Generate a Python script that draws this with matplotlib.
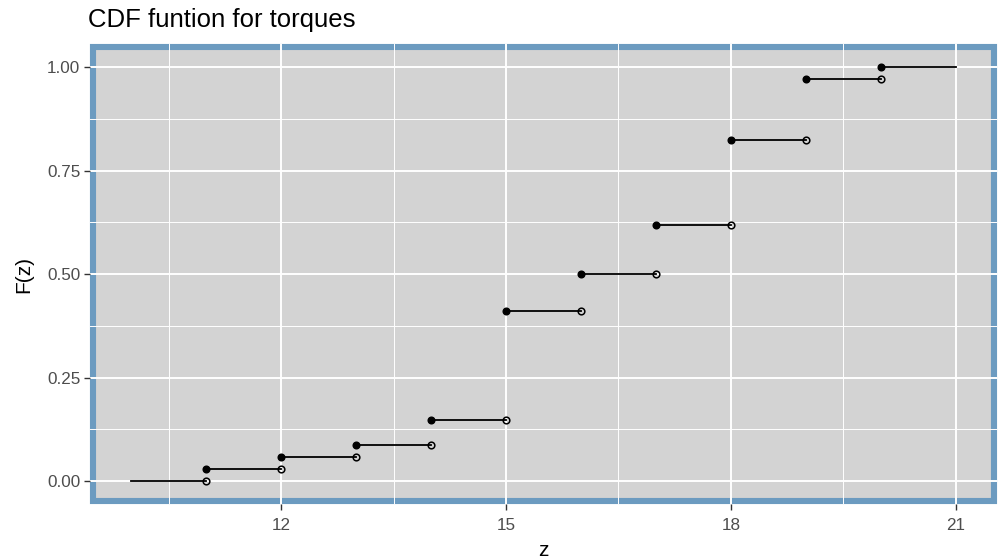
import numpy as np
import matplotlib.pyplot as plt
from matplotlib.patches import Rectangle
from matplotlib.ticker import MultipleLocator

plt.rcParams['font.family'] = ['Liberation Sans', 'DejaVu Sans']

# step values of the empirical cdf
z_left = [10, 11, 12, 13, 14, 15, 16, 17, 18, 19, 20]
z_right = [11, 12, 13, 14, 15, 16, 17, 18, 19, 20, 21]
F = [0.0, 0.029, 0.059, 0.088, 0.147, 0.412, 0.5, 0.618, 0.824, 0.971, 1.0]

x_ticks = [12, 15, 18, 21]
y_ticks = [0.0, 0.25, 0.5, 0.75, 1.0]
y_labels = ["0.00", "0.25", "0.50", "0.75", "1.00"]

BG = "#D3D3D3"
BORDER = "#6C9BC0"

fig = plt.figure(figsize=(10, 5.6), dpi=100)
ax = fig.add_axes([0.090, 0.100, 0.907, 0.821])
ax.set_facecolor(BG)

# ggplot style expansion (5%)
ax.set_xlim(10 - 0.55, 21 + 0.55)
ax.set_ylim(-0.055, 1.055)

ax.set_axisbelow(True)
ax.set_xticks(x_ticks)
ax.set_yticks(y_ticks)
ax.set_yticklabels(y_labels)
ax.xaxis.set_minor_locator(MultipleLocator(1.5))
ax.yaxis.set_minor_locator(MultipleLocator(0.125))
ax.grid(which='major', color='white', linewidth=1.4)
ax.grid(which='minor', color='white', linewidth=0.7)
ax.tick_params(which='minor', length=0)
ax.tick_params(which='major', length=4, width=1, color='#333333',
               labelcolor='#4D4D4D', labelsize=12.3, pad=3)
ax.tick_params(axis='x', which='major', pad=6)

for s in ax.spines.values():
    s.set_visible(False)

# thick blue panel outline drawn beneath the grid
w, h = 907, 460
ax.add_patch(Rectangle((3 / w, 3 / h), 1 - 6 / w, 1 - 6 / h, transform=ax.transAxes,
                       fill=False, edgecolor=BORDER, linewidth=4.4, zorder=0.3,
                       clip_on=False))

for i in range(len(F)):
    ax.plot([z_left[i], z_right[i]], [F[i], F[i]], color='black', linewidth=1.3, zorder=2)
    if i > 0:
        ax.plot(z_left[i], F[i], 'o', color='black', markersize=4.8, zorder=3)
    if i < len(F) - 1:
        ax.plot(z_right[i], F[i], 'o', markerfacecolor='none', markeredgecolor='black',
                markeredgewidth=1.1, markersize=4.8, zorder=3)

ax.set_xlabel("z", fontsize=15, color='black', labelpad=6)
ax.set_ylabel("F(z)", fontsize=15, color='black', labelpad=10)
fig.text(0.088, 0.952, "CDF funtion for torques", fontsize=18.5, color='black')

plt.savefig("out.png", dpi=100)
